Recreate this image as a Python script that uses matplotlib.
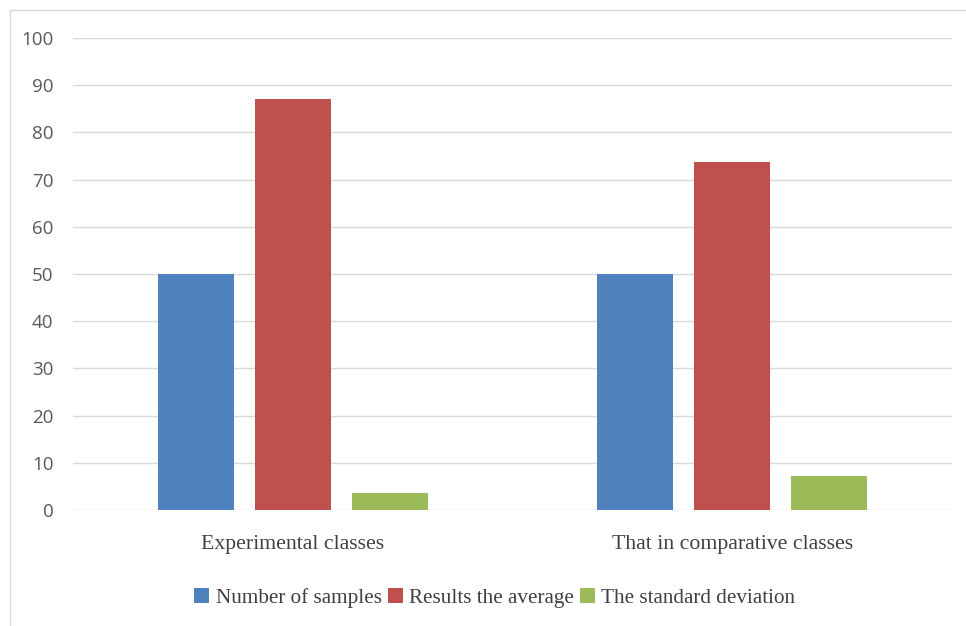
import matplotlib
matplotlib.use("Agg")
import matplotlib.pyplot as plt
from matplotlib.patches import Rectangle
import numpy as np

categories = ["Experimental classes", "That in comparative classes"]
series_names = ["Number of samples", "Results the average", "The standard deviation"]
samples = [50, 50]
average = [87, 73.7]
std_dev = [3.6, 7.3]
colors = ["#4f81bd", "#c0504d", "#9bbb59"]
yticks = [0, 10, 20, 30, 40, 50, 60, 70, 80, 90, 100]

fig = plt.figure(figsize=(9.66, 6.26), dpi=100)
fig.patches.append(Rectangle((10/966, -0.1), 1.2, 1 - 10/626 + 0.1, transform=fig.transFigure,
                             fill=False, edgecolor="#d9d9d9", linewidth=1.0))
ax = fig.add_axes([73/966, 1 - 510/626, (952-73)/966, (510-38)/626])

x = np.arange(len(categories))
w = 0.173
step = 0.221
for i, (vals, name) in enumerate(zip([samples, average, std_dev], series_names)):
    ax.bar(x + (i - 1) * step, vals, width=w, color=colors[i], label=name, zorder=3)

ax.set_xlim(-0.5, 1.5)
ax.set_ylim(0, 100)
ax.set_yticks(yticks)
ax.set_yticklabels([str(v) for v in yticks], fontsize=13.5, color="#595959",
                   family=["Open Sans", "DejaVu Sans"])
ax.set_xticks(x)
ax.set_xticklabels(categories, fontsize=15.7, color="#404040", family=["Liberation Serif"])
ax.tick_params(axis="both", length=0)
ax.tick_params(axis="y", pad=14)
ax.tick_params(axis="x", pad=18)
ax.grid(axis="y", color="#d9d9d9", linewidth=1.0, zorder=0)
for s in ax.spines.values():
    s.set_visible(False)

leg = ax.legend(loc="upper center", bbox_to_anchor=(0.48, -0.125), ncol=3, frameon=False,
                prop={"family": "Liberation Serif", "size": 15.2},
                handlelength=0.7, handleheight=0.7, handletextpad=0.3, columnspacing=0.3)
for t in leg.get_texts():
    t.set_color("#404040")

fig.savefig("out.png", dpi=100)
